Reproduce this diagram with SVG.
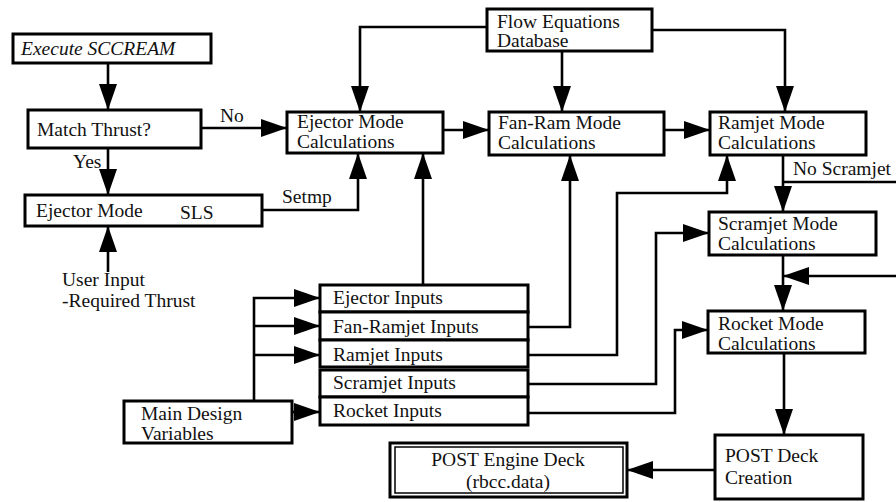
<svg xmlns="http://www.w3.org/2000/svg" width="896" height="502" viewBox="0 0 896 502">
<style>
.b{fill:#fff;stroke:#000;stroke-width:3}
.t{font-family:'Liberation Serif','DejaVu Serif',serif;font-size:19.5px;fill:#111}
.c{fill:none;stroke:#000;stroke-width:2.6}
.a{marker-end:url(#ah)}
</style>
<defs>
<marker id="ah" viewBox="0 0 26 18" refX="26" refY="9" markerWidth="26" markerHeight="18" markerUnits="userSpaceOnUse" orient="auto">
<path d="M0,0 L26,9 L0,18 Z" fill="#000"/>
</marker>
</defs>
<rect width="896" height="502" fill="#fff"/>
<g id="connectors">
<path class="c a" d="M108,63 V110"/>
<path class="c a" d="M201,128 H287"/>
<path class="c a" d="M108,148 V195"/>
<path class="c a" d="M108,272 V226"/>
<path class="c a" d="M262,210 H358 V153"/>
<path class="c a" d="M487,27 H360 V112"/>
<path class="c a" d="M562,51 V112"/>
<path class="c a" d="M652,30 H785 V112"/>
<path class="c a" d="M443,130 H489"/>
<path class="c a" d="M664,130 H710"/>
<path class="c a" d="M783,155 V212"/>
<path class="c" d="M783,182 H896"/>
<path class="c a" d="M783,255 V311"/>
<path class="c a" d="M896,276 H783"/>
<path class="c a" d="M784,353 V435"/>
<path class="c a" d="M715,470 H627"/>
<path class="c a" d="M423,285 V153"/>
<path class="c a" d="M528,327 H570 V155"/>
<path class="c a" d="M528,355 H617 V193 H727 V155"/>
<path class="c a" d="M528,384 H656 V233 H709"/>
<path class="c a" d="M528,413 H675 V330 H708"/>
<path class="c a" d="M254,401 V298 H320"/>
<path class="c a" d="M254,326 H320"/>
<path class="c a" d="M254,355 H320"/>
<path class="c a" d="M292,412 H320"/>
<text class="t" x="220" y="122">No</text>
<text class="t" x="73" y="168">Yes</text>
<text class="t" x="282" y="203">Setmp</text>
<text class="t" x="793" y="175">No Scramjet</text>
</g>
<g id="execute">
<rect class="b" x="13" y="34" width="198" height="29"/>
<text class="t" x="21" y="55" font-style="italic">Execute SCCREAM</text>
</g>
<g id="match">
<rect class="b" x="28" y="110" width="173" height="38"/>
<text class="t" x="37" y="136">Match Thrust?</text>
</g>
<g id="ejector-mode">
<rect class="b" x="25" y="195" width="237" height="31"/>
<text class="t" x="36" y="217">Ejector Mode</text>
<text class="t" x="180" y="219">SLS</text>
</g>
<g id="user-input">
<text class="t" x="62" y="286">User Input</text>
<text class="t" x="62" y="307">-Required Thrust</text>
</g>
<g id="ejector-calc">
<rect class="b" x="287" y="112" width="156" height="41"/>
<text class="t" x="297" y="128">Ejector Mode</text>
<text class="t" x="297" y="148">Calculations</text>
</g>
<g id="flow">
<rect class="b" x="487" y="9" width="165" height="42"/>
<text class="t" x="497" y="28">Flow Equations</text>
<text class="t" x="497" y="47">Database</text>
</g>
<g id="fanram-calc">
<rect class="b" x="489" y="112" width="175" height="43"/>
<text class="t" x="498" y="129">Fan-Ram Mode</text>
<text class="t" x="498" y="149">Calculations</text>
</g>
<g id="ramjet-calc">
<rect class="b" x="710" y="112" width="156" height="43"/>
<text class="t" x="718" y="129">Ramjet Mode</text>
<text class="t" x="718" y="149">Calculations</text>
</g>
<g id="scramjet-calc">
<rect class="b" x="709" y="212" width="167" height="43"/>
<text class="t" x="718" y="230">Scramjet Mode</text>
<text class="t" x="718" y="250">Calculations</text>
</g>
<g id="rocket-calc">
<rect class="b" x="708" y="311" width="157" height="42"/>
<text class="t" x="718" y="330">Rocket Mode</text>
<text class="t" x="718" y="350">Calculations</text>
</g>
<g id="post-deck">
<rect class="b" x="715" y="435" width="148" height="64"/>
<text class="t" x="725" y="462">POST Deck</text>
<text class="t" x="725" y="484">Creation</text>
</g>
<g id="post-engine">
<rect class="b" x="390" y="443" width="237" height="54"/>
<rect x="395" y="447" width="228" height="46" fill="none" stroke="#000" stroke-width="1.5"/>
<text class="t" x="508" y="466" text-anchor="middle">POST Engine Deck</text>
<text class="t" x="508" y="488" text-anchor="middle">(rbcc.data)</text>
</g>
<g id="ejector-inputs">
<rect class="b" x="320" y="285" width="208" height="27"/>
<text class="t" x="333" y="304">Ejector Inputs</text>
</g>
<g id="fanramjet-inputs">
<rect class="b" x="320" y="312" width="208" height="28"/>
<text class="t" x="333" y="333">Fan-Ramjet Inputs</text>
</g>
<g id="ramjet-inputs">
<rect class="b" x="320" y="340" width="208" height="27"/>
<text class="t" x="333" y="361">Ramjet Inputs</text>
</g>
<g id="scramjet-inputs">
<rect class="b" x="320" y="370" width="208" height="27"/>
<text class="t" x="333" y="389">Scramjet Inputs</text>
</g>
<g id="rocket-inputs">
<rect class="b" x="320" y="397" width="208" height="28"/>
<text class="t" x="333" y="417">Rocket Inputs</text>
</g>
<g id="main-design">
<rect class="b" x="124" y="401" width="168" height="42"/>
<text class="t" x="141" y="420">Main Design</text>
<text class="t" x="141" y="440">Variables</text>
</g>
</svg>
